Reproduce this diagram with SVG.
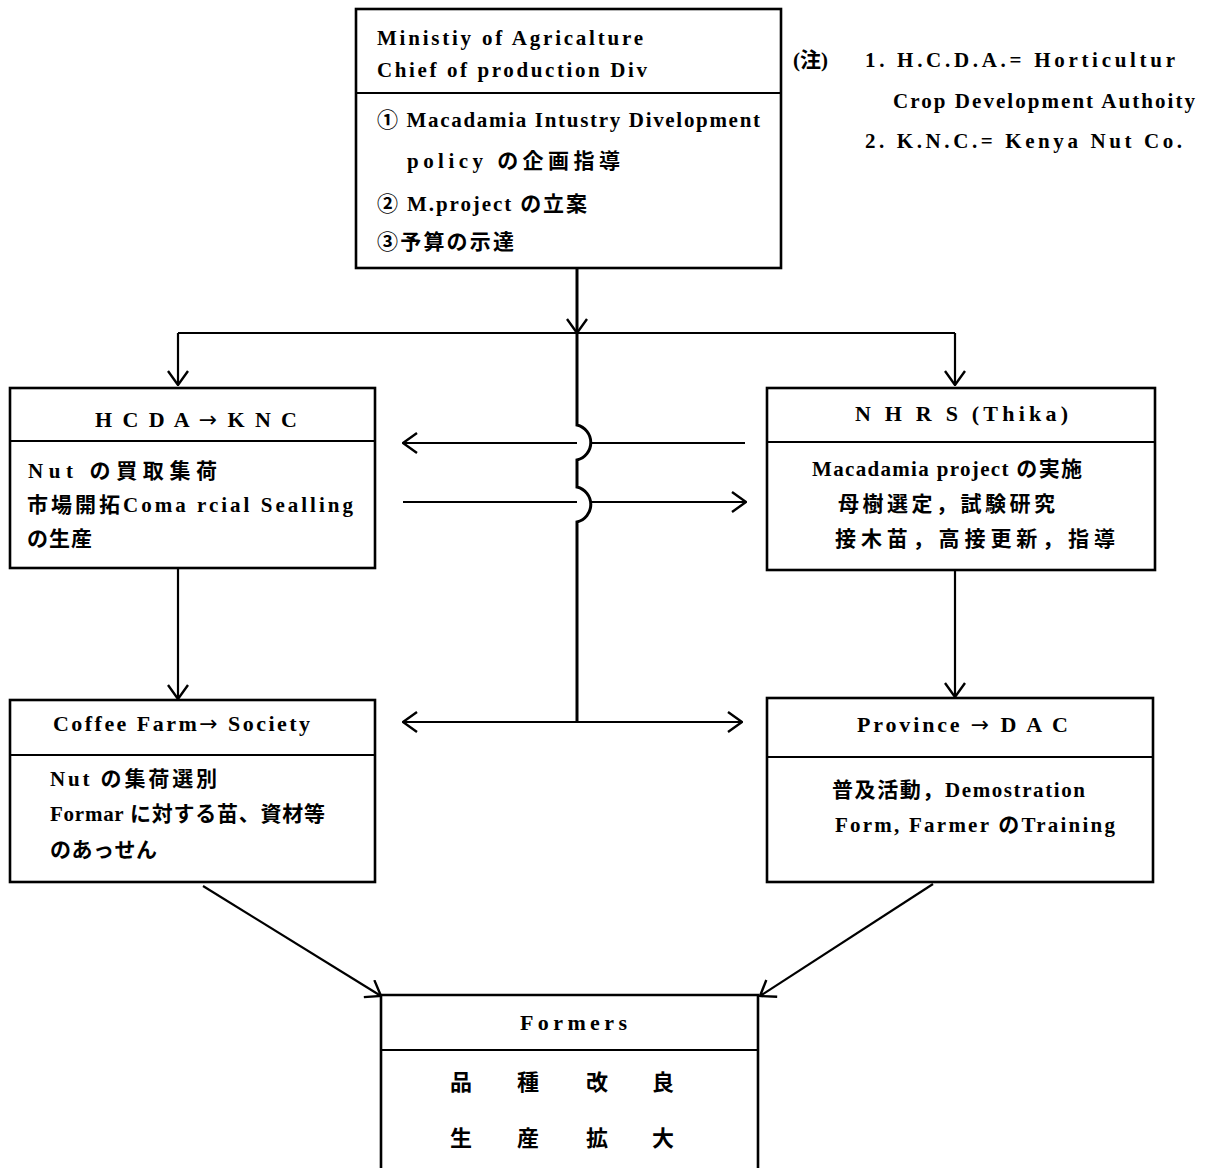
<svg xmlns="http://www.w3.org/2000/svg" width="1208" height="1168" viewBox="0 0 1208 1168">
<style>
text{font-family:"Liberation Serif","Noto Sans CJK JP",serif;font-weight:bold;font-size:21px;fill:#000}
.t{font-size:22px}
.k{font-size:22px}
.ar{font-family:"DejaVu Sans",sans-serif;font-weight:normal}
.box{fill:none;stroke:#000;stroke-width:2.6}
.div{stroke:#000;stroke-width:2}
.ln{fill:none;stroke:#000;stroke-width:2.2}
.vl{fill:none;stroke:#000;stroke-width:3}
</style>
<defs>
<marker id="arr" viewBox="0 0 16 22" markerWidth="16" markerHeight="22" refX="15" refY="11" orient="auto-start-reverse" markerUnits="userSpaceOnUse">
<path d="M1,1 L15,11 L1,21" fill="none" stroke="#000" stroke-width="2.4"/>
</marker>
</defs>
<rect width="1208" height="1168" fill="#fff"/>

<g id="ministry">
<rect class="box" x="356" y="9" width="425" height="259"/>
<line class="div" x1="356" y1="93" x2="781" y2="93"/>
<text x="377" y="45" textLength="266" lengthAdjust="spacing">Ministiy of Agricalture</text>
<text x="377" y="77" textLength="270" lengthAdjust="spacing">Chief of production Div</text>
<text x="377" y="127" textLength="383" lengthAdjust="spacing">① Macadamia Intustry Divelopment</text>
<text x="407" y="168" textLength="213" lengthAdjust="spacing">policy の企画指導</text>
<text x="377" y="211" textLength="210" lengthAdjust="spacing">② M.project の立案</text>
<text x="377" y="249" textLength="137" lengthAdjust="spacing">③予算の示達</text>
</g>

<g id="notes">
<text x="793" y="67">(注)</text>
<text x="865" y="67" textLength="310" lengthAdjust="spacing">1.  H.C.D.A.= Horticultur</text>
<text x="893" y="108" textLength="302" lengthAdjust="spacing">Crop Development Authoity</text>
<text x="865" y="148" textLength="317" lengthAdjust="spacing">2.  K.N.C.= Kenya Nut Co.</text>
</g>

<g id="hcda">
<rect class="box" x="10" y="388" width="365" height="180"/>
<line class="div" x1="10" y1="441" x2="375" y2="441"/>
<text class="t" x="95" y="427" textLength="202" lengthAdjust="spacing">H C D A <tspan class="ar">→</tspan> K N C</text>
<text x="28" y="478" textLength="189" lengthAdjust="spacing">Nut の買取集荷</text>
<text x="27" y="512" textLength="326" lengthAdjust="spacing">市場開拓Coma rcial Sealling</text>
<text x="27" y="546" textLength="65" lengthAdjust="spacing">の生産</text>
</g>

<g id="nhrs">
<rect class="box" x="767" y="388" width="388" height="182"/>
<line class="div" x1="767" y1="442" x2="1155" y2="442"/>
<text class="t" x="855" y="421" textLength="213" lengthAdjust="spacing">N H R S (Thika)</text>
<text x="812" y="476" textLength="270" lengthAdjust="spacing">Macadamia project の実施</text>
<text x="838" y="511" textLength="217" lengthAdjust="spacing">母樹選定，試験研究</text>
<text x="835" y="546" textLength="280" lengthAdjust="spacing">接木苗，高接更新，指導</text>
</g>

<g id="coffee">
<rect class="box" x="10" y="700" width="365" height="182"/>
<line class="div" x1="10" y1="755" x2="375" y2="755"/>
<text class="t" x="53" y="731" textLength="257" lengthAdjust="spacing">Coffee Farm<tspan class="ar">→</tspan> Society</text>
<text x="50" y="786" textLength="167" lengthAdjust="spacing">Nut の集荷選別</text>
<text x="50" y="821" textLength="275" lengthAdjust="spacing">Formar に対する苗、資材等</text>
<text x="50" y="857" textLength="107" lengthAdjust="spacing">のあっせん</text>
</g>

<g id="province">
<rect class="box" x="767" y="698" width="386" height="184"/>
<line class="div" x1="767" y1="757" x2="1153" y2="757"/>
<text class="t" x="857" y="732" textLength="211" lengthAdjust="spacing">Province <tspan class="ar">→</tspan> D A C</text>
<text x="832" y="797" textLength="253" lengthAdjust="spacing">普及活動，Demostration</text>
<text x="835" y="832" textLength="280" lengthAdjust="spacing">Form, Farmer のTraining</text>
</g>

<g id="formers">
<path class="box" d="M381,1168 V995 H758 V1168"/>
<line class="div" x1="381" y1="1050" x2="758" y2="1050"/>
<text class="t" x="520" y="1030" textLength="107" lengthAdjust="spacing">Formers</text>
<text class="k" x="461" y="1090" text-anchor="middle">品</text>
<text class="k" x="528" y="1090" text-anchor="middle">種</text>
<text class="k" x="597" y="1090" text-anchor="middle">改</text>
<text class="k" x="663" y="1090" text-anchor="middle">良</text>
<text class="k" x="461" y="1146" text-anchor="middle">生</text>
<text class="k" x="528" y="1146" text-anchor="middle">産</text>
<text class="k" x="597" y="1146" text-anchor="middle">拡</text>
<text class="k" x="663" y="1146" text-anchor="middle">大</text>
</g>

<g id="connectors">
<path class="vl" d="M577,268 V333" marker-end="url(#arr)"/>
<path class="vl" d="M577,333 V425 A18,18 0 0 1 577,460 V487 A18,18 0 0 1 577,522 V722"/>
<path class="ln" d="M178,333 H955"/>
<path class="ln" d="M178,333 V385" marker-end="url(#arr)"/>
<path class="ln" d="M955,333 V385" marker-end="url(#arr)"/>
<path class="ln" d="M577,443 H403" marker-end="url(#arr)"/>
<path class="ln" d="M745,443 H592"/>
<path class="ln" d="M403,502 H577"/>
<path class="ln" d="M591,502 H746" marker-end="url(#arr)"/>
<path class="ln" d="M403,722 H742" marker-start="url(#arr)" marker-end="url(#arr)"/>
<path class="ln" d="M178,568 V699" marker-end="url(#arr)"/>
<path class="ln" d="M955,570 V697" marker-end="url(#arr)"/>
<path class="ln" d="M203,886 L381,996" marker-end="url(#arr)"/>
<path class="ln" d="M933,884 L760,996" marker-end="url(#arr)"/>
</g>
</svg>
